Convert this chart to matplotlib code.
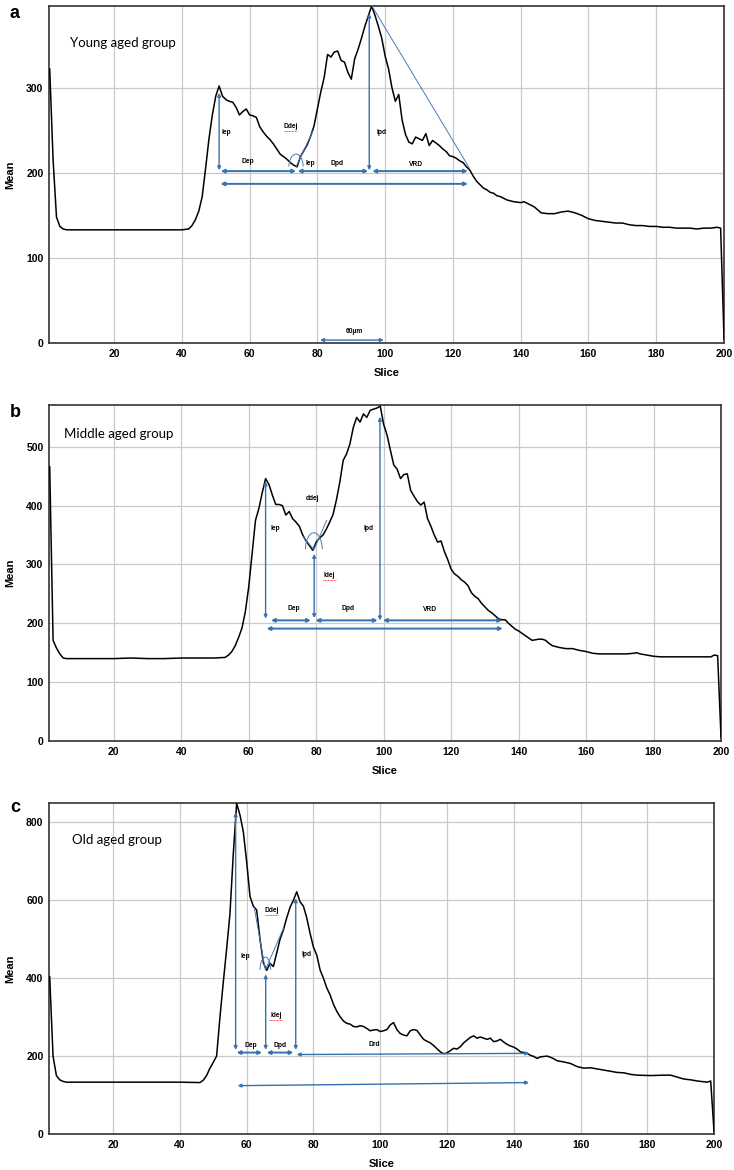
import matplotlib
matplotlib.use("Agg")
import matplotlib.pyplot as plt
from matplotlib.patches import Arc
from matplotlib.transforms import offset_copy

# ---------------- data ----------------
slice_a = [1, 2, 3, 4, 5, 6, 10, 15, 20, 25, 30, 35, 40, 42, 43, 44, 45, 46, 47, 48, 49, 50,
           51, 52, 53, 54, 55, 56, 57, 58, 59, 60, 61, 62, 63, 64, 65, 66, 67, 68, 69, 70,
           71, 72, 73, 74, 75, 76, 77, 78, 79, 80, 81, 82, 83, 84, 85, 86, 87, 88, 89, 90,
           91, 92, 93, 94, 95, 96, 97, 98, 99, 100, 101, 102, 103, 104, 105, 106, 107, 108,
           109, 110, 111, 112, 113, 114, 115, 116, 117, 118, 119, 120, 121, 122, 123, 124,
           125, 126, 127, 128, 129, 130, 131, 132, 133, 134, 135, 136, 138, 140, 141, 142,
           144, 146, 148, 150, 152, 154, 156, 158, 160, 162, 164, 166, 168, 170, 172, 174,
           176, 178, 180, 182, 184, 186, 188, 190, 192, 194, 196, 198, 199, 200]
mean_a = [322, 215, 148, 137, 134, 133, 133, 133, 133, 133, 133, 133, 133, 134, 138, 145, 155, 172, 205, 240, 268, 290,
          302, 290, 286, 284, 283, 277, 268, 272, 275, 268, 267, 265, 254, 248, 243, 239, 234, 228, 222, 219,
          216, 212, 209, 207, 219, 226, 233, 243, 255, 275, 295, 312, 339, 336, 342, 343, 332, 330, 318, 310,
          334, 345, 358, 372, 384, 396, 385, 372, 358, 337, 322, 300, 284, 292, 262, 245, 236, 234,
          242, 240, 238, 246, 232, 238, 235, 232, 228, 225, 220, 219, 217, 214, 212, 207,
          203, 196, 190, 186, 182, 180, 177, 176, 173, 172, 170, 168, 166, 165, 166, 164,
          160, 153, 152, 152, 154, 155, 153, 150, 146, 144, 143, 142, 141, 141, 139, 138,
          138, 137, 137, 136, 136, 135, 135, 135, 134, 135, 135, 136, 135, 5]

slice_b = [1, 2, 3, 4, 5, 6, 10, 15, 20, 25, 30, 35, 40, 45, 50, 53, 54, 55, 56, 57, 58, 59, 60,
           61, 62, 63, 64, 65, 66, 67, 68, 69, 70, 71, 72, 73, 74, 75, 76, 77, 78, 79, 80,
           81, 82, 83, 84, 85, 86, 87, 88, 89, 90, 91, 92, 93, 94, 95, 96, 97, 98, 99, 100,
           101, 102, 103, 104, 105, 106, 107, 108, 109, 110, 111, 112, 113, 114, 115, 116, 117,
           118, 119, 120, 121, 122, 123, 124, 125, 126, 127, 128, 129, 130, 131, 132, 133, 134,
           135, 136, 137, 138, 139, 140, 141, 142, 143, 144, 145, 146, 147, 148, 149, 150, 152,
           154, 156, 158, 160, 162, 164, 166, 168, 170, 172, 174, 175, 176, 178, 180, 182, 186,
           190, 194, 197, 198, 199, 200]
mean_b = [466, 171, 158, 148, 141, 140, 140, 140, 140, 141, 140, 140, 141, 141, 141, 142, 146, 152, 162, 176, 192, 220, 262,
          318, 375, 395, 422, 446, 436, 418, 402, 402, 400, 384, 390, 378, 372, 365, 350, 340, 332, 324, 338,
          345, 350, 360, 372, 385, 410, 440, 477, 488, 505, 533, 550, 542, 556, 550, 562, 564, 566, 569, 538,
          520, 494, 469, 462, 446, 453, 454, 426, 416, 407, 401, 406, 378, 365, 350, 338, 340,
          322, 308, 292, 284, 280, 274, 270, 264, 252, 246, 242, 234, 228, 222, 218, 213, 208,
          206, 206, 200, 195, 190, 187, 183, 179, 175, 171, 172, 173, 173, 171, 166, 162, 159,
          157, 157, 154, 152, 149, 148, 148, 148, 148, 148, 149, 150, 148, 146, 144, 143, 143,
          143, 143, 143, 146, 145, 7]

slice_c = [1, 2, 3, 4, 5, 6, 10, 20, 30, 40, 46, 47, 48, 49, 50, 51, 52, 53, 54, 55, 56, 57, 58,
           59, 60, 61, 62, 63, 64, 65, 66, 67, 68, 69, 70, 71, 72, 73, 74, 75, 76, 77, 78, 79,
           80, 81, 82, 83, 84, 85, 86, 87, 88, 89, 90, 91, 92, 93, 94, 95, 96, 97, 98, 99, 100,
           101, 102, 103, 104, 105, 106, 107, 108, 109, 110, 111, 112, 113, 114, 115, 116, 117,
           118, 119, 120, 121, 122, 123, 124, 125, 126, 127, 128, 129, 130, 131, 132, 133, 134,
           135, 136, 137, 138, 139, 140, 141, 142, 143, 144, 145, 146, 147, 148, 149, 150, 151,
           152, 153, 155, 157, 159, 161, 163, 165, 167, 169, 171, 173, 175, 177, 181, 185, 187,
           189, 191, 193, 195, 197, 198, 199, 200]
mean_c = [404, 200, 150, 139, 135, 133, 133, 133, 133, 133, 132, 138, 150, 169, 184, 200, 300, 390, 475, 566, 720, 849, 819,
          776, 699, 610, 585, 575, 500, 440, 420, 438, 430, 465, 500, 524, 555, 582, 600, 622, 596, 585, 555, 515,
          480, 459, 421, 400, 375, 357, 333, 315, 301, 290, 284, 282, 276, 275, 278, 276, 271, 265, 267, 268, 263,
          265, 268, 280, 286, 268, 258, 254, 252, 265, 268, 266, 254, 243, 238, 234, 227, 219,
          211, 206, 208, 214, 220, 218, 224, 234, 241, 248, 252, 246, 249, 246, 243, 246, 237,
          239, 243, 236, 230, 226, 223, 218, 211, 209, 207, 202, 199, 194, 198, 199, 200, 197,
          193, 188, 185, 181, 173, 169, 170, 167, 164, 161, 158, 157, 153, 151, 150, 151, 151,
          146, 141, 139, 136, 134, 133, 136, 6]

x_ticks = [20, 40, 60, 80, 100, 120, 140, 160, 180, 200]
y_ticks_a = [0, 100, 200, 300]
y_ticks_b = [0, 100, 200, 300, 400, 500]
y_ticks_c = [0, 200, 400, 600, 800]
group_titles = ["Young aged group", "Middle aged group", "Old aged group"]
panel_letters = ["a", "b", "c"]

# ---------------- styling ----------------
ARROW = "#3572B0"
GRID = "#c9c9c9"
TICKFONT = dict(family="Liberation Sans", weight="bold", size=7.5)
ANNFONT = dict(family="Liberation Sans", weight="bold", size=4.8)

fig = plt.figure(figsize=(7.34, 11.70), dpi=100)


def make_axes(rect, xs, ys, yticks, ylim):
    ax = fig.add_axes(rect)
    ax.plot(xs, ys, color="black", lw=1.1, zorder=3)
    ax.set_xlim(0.8, 200)
    ax.set_ylim(*ylim)
    ax.set_xticks(x_ticks)
    ax.set_yticks(yticks)
    ax.grid(True, color=GRID, lw=0.9, zorder=0)
    ax.set_axisbelow(True)
    ax.tick_params(length=0, pad=4)
    for lab in ax.get_xticklabels() + ax.get_yticklabels():
        lab.set_fontfamily(TICKFONT["family"])
        lab.set_fontweight("bold")
        lab.set_fontsize(TICKFONT["size"])
    for s in ax.spines.values():
        s.set_color("#333333")
        s.set_linewidth(1.2)
    ax.set_xlabel("Slice", fontfamily="Liberation Sans", fontweight="bold", fontsize=8, labelpad=7)
    ax.set_ylabel("Mean", fontfamily="Liberation Sans", fontweight="bold", fontsize=8, labelpad=8)
    return ax


def darrow(ax, x0, y0, x1, y1, lw=1.0):
    ax.annotate("", xy=(x1, y1), xytext=(x0, y0),
                arrowprops=dict(arrowstyle="<|-|>", color=ARROW, lw=lw,
                                mutation_scale=5, shrinkA=0, shrinkB=0), zorder=4)


def thin(ax, xs, ys):
    ax.plot(xs, ys, color="#4a7ab0", lw=0.7, zorder=4)


def lab(ax, x, y, s, underline=False, ha="center"):
    ax.text(x, y, s, ha=ha, va="center", zorder=5, **ANNFONT)
    if underline:
        tr = offset_copy(ax.transData, fig=fig, y=-3.2, units="points")
        ax.plot([x - 2.0, x + 2.0], [y, y], transform=tr, color="red",
                lw=0.6, ls=(0, (1, 0.8)), zorder=5)


def title(ax, x, y, s):
    ax.text(x, y, s, ha="left", va="center", fontfamily="Lato", fontsize=9.5, zorder=5)


# ---------------- panel a ----------------
axa = make_axes([0.0668, 0.7068, 0.9196, 0.2881], slice_a, mean_a, y_ticks_a, (0, 396))
title(axa, 7.0, 353, group_titles[0])
darrow(axa, 51, 203, 51, 294)
lab(axa, 51.6, 247, "Iep", ha="left")
darrow(axa, 51.5, 202, 73.7, 202, lw=1.4)
lab(axa, 59.6, 213, "Dep")
lab(axa, 72, 254, "Ddej", underline=True)
thin(axa, [73.7, 78.8], [207, 250])
axa.add_patch(Arc((73.7, 207), 4.2, 30, theta1=10, theta2=170, color="#4a7ab0", lw=0.7, zorder=4))
lab(axa, 77.8, 211, "Iep")
darrow(axa, 74.2, 202, 95.0, 202, lw=1.4)
lab(axa, 85.7, 211, "Dpd")
darrow(axa, 95.3, 203, 95.3, 387)
lab(axa, 99.0, 247, "Ipd")
darrow(axa, 96.2, 202, 124.4, 202, lw=1.4)
lab(axa, 109.2, 210, "VRD")
darrow(axa, 51.4, 187, 124.4, 187, lw=1.4)
thin(axa, [96.1, 124.8], [396, 206])
darrow(axa, 80.8, 3.5, 99.6, 3.5)
lab(axa, 90.8, 13, "60µm")

# ---------------- panel b ----------------
axb = make_axes([0.0668, 0.3667, 0.9155, 0.2871], slice_b, mean_b, y_ticks_b, (0, 571))
title(axb, 5.1, 521, group_titles[1])
darrow(axb, 65.0, 208, 65.0, 441)
lab(axb, 66.5, 361, "Iep", ha="left")
lab(axb, 79, 413, "ddej")
thin(axb, [76.2, 79.3, 83.1], [347, 325, 375])
axb.add_patch(Arc((79.3, 325), 5.0, 58, theta1=15, theta2=165, color="#4a7ab0", lw=0.7, zorder=4))
darrow(axb, 79.4, 209, 79.4, 318)
lab(axb, 83.9, 282, "Idej", underline=True)
darrow(axb, 66.6, 205, 78.4, 205, lw=1.4)
lab(axb, 73.4, 225, "Dep")
darrow(axb, 79.8, 205, 98.2, 205, lw=1.4)
lab(axb, 89.5, 225, "Dpd")
darrow(axb, 98.9, 205, 98.9, 551)
lab(axb, 95.4, 361, "Ipd")
darrow(axb, 99.8, 205, 135.1, 205, lw=1.4)
lab(axb, 113.6, 224, "VRD")
darrow(axb, 65.3, 191, 135.3, 191, lw=1.4)

# ---------------- panel c ----------------
axc = make_axes([0.0668, 0.0308, 0.9060, 0.2829], slice_c, mean_c, y_ticks_c, (0, 850))
title(axc, 7.8, 755, group_titles[2])
darrow(axc, 56.7, 216, 56.7, 826)
lab(axc, 59.6, 455, "Iep")
lab(axc, 67.5, 575, "Ddej", underline=True)
thin(axc, [62.3, 65.6, 71.0], [580, 421, 528])
axc.add_patch(Arc((65.6, 421), 3.2, 66, theta1=15, theta2=165, color="#4a7ab0", lw=0.7, zorder=4))
darrow(axc, 65.7, 216, 65.7, 410)
lab(axc, 68.7, 305, "Idej", underline=True)
darrow(axc, 74.7, 216, 74.7, 605)
lab(axc, 77.8, 461, "Ipd")
darrow(axc, 57.0, 209, 64.6, 209, lw=1.4)
lab(axc, 61.2, 227, "Dep")
darrow(axc, 66.0, 209, 74.0, 209, lw=1.4)
lab(axc, 70.0, 227, "Dpd")
darrow(axc, 75.0, 204, 144.6, 207)
lab(axc, 98.1, 230, "Drd")
darrow(axc, 57.3, 124, 144.6, 132)

# panel letters
for letter, (px, py) in zip(panel_letters, [(10, 14), (10, 412), (10, 808)]):
    fig.text(px / 734, 1 - py / 1170, letter, ha="left", va="center",
             fontfamily="Liberation Sans", fontweight="bold", fontsize=13)

fig.savefig("out.png", dpi=100)
